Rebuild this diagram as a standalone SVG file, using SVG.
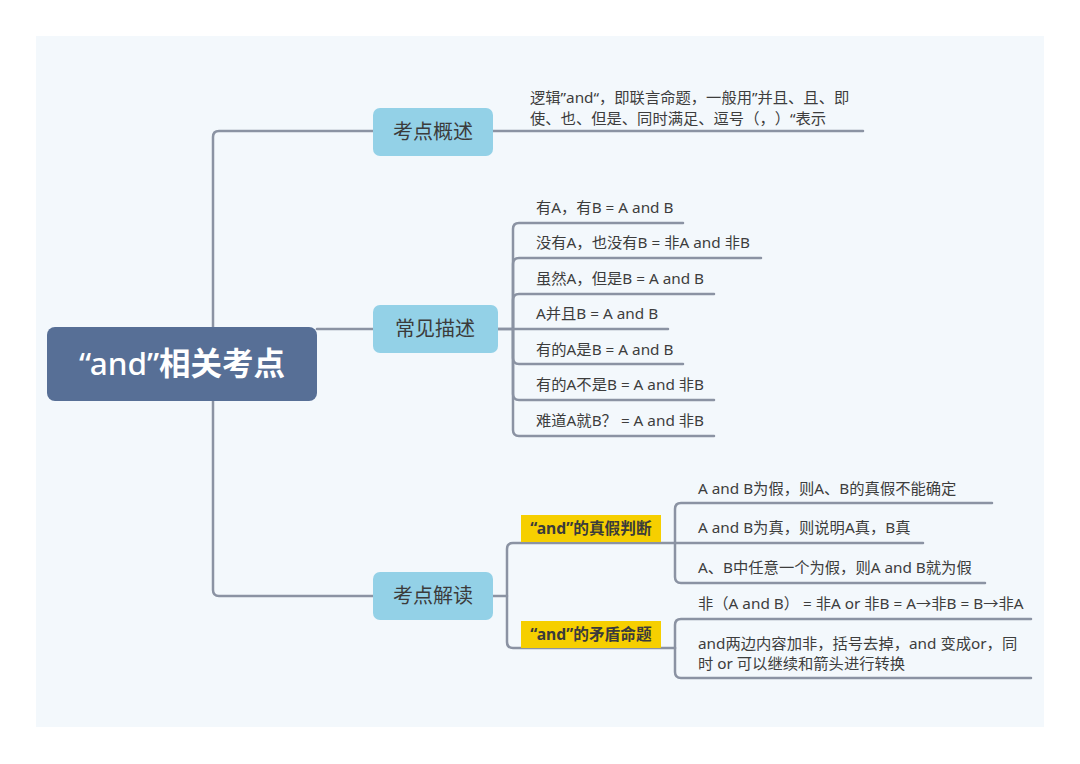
<svg xmlns="http://www.w3.org/2000/svg" width="1080" height="764" viewBox="0 0 1080 764">
<style>
.bg{fill:#f3f8fc}
.conn path{fill:none;stroke:#8b93a3;stroke-width:2.5;stroke-linecap:round;stroke-linejoin:round}
.root rect{fill:#576f96}
.root text{fill:#ffffff;font-size:31.5px}
.sub rect{fill:#93d1e7}
.sub text{fill:#3b3b3b;font-size:20px;text-anchor:middle}
.lbl rect{fill:#f6cf00}
.lbl text{fill:#3b3b3b;font-size:15.7px;font-weight:bold;text-anchor:middle}
.leaf text{fill:#3d3d3d;font-size:15.3px}
.cjk{font-family:"Noto Sans CJK SC",sans-serif}
text{font-family:"Noto Sans","Noto Sans CJK SC",sans-serif;text-spacing-trim:space-all}
</style>
<rect x="0" y="0" width="1080" height="764" fill="#ffffff"/>
<rect class="bg" x="36" y="36" width="1008" height="691"/>
<g class="conn" id="connectors">
<path d="M213,327 V137 Q213,131 219,131 H373"/>
<path d="M317,329 H373"/>
<path d="M213,400 V590 Q213,596 219,596 H373"/>
<path d="M493,131 H863"/>
<path d="M498,329 H513 V229 Q513,223 519,223 H683"/>
<path d="M513,329 V264 Q513,258 519,258 H761"/>
<path d="M513,329 V300 Q513,294 519,294 H714"/>
<path d="M498,329 H668"/>
<path d="M513,329 V358 Q513,364 519,364 H683"/>
<path d="M513,329 V394 Q513,400 519,400 H714"/>
<path d="M513,329 V430 Q513,436 519,436 H714"/>
<path d="M493,596 H507 V549 Q507,543 513,543 H675"/>
<path d="M507,596 V642 Q507,648 513,648 H675"/>
<path d="M675,543 V509 Q675,503 681,503 H992"/>
<path d="M675,543 H923"/>
<path d="M675,543 V577 Q675,583 681,583 H985"/>
<path d="M675,648 V625 Q675,619 681,619 H1031"/>
<path d="M675,648 V672 Q675,678 681,678 H1031"/>
</g>
<g class="root" id="root">
<rect x="47" y="327" width="270" height="74" rx="8"/>
<text x="182" y="375" text-anchor="middle"><tspan font-weight="500">“and”</tspan><tspan font-weight="bold">相关考点</tspan></text>
</g>
<g class="sub" id="n-gaishu">
<rect x="373" y="108" width="120" height="48" rx="7"/>
<text x="433" y="139">考点概述</text>
</g>
<g class="sub" id="n-miaoshu">
<rect x="373" y="305" width="125" height="48" rx="7"/>
<text x="435" y="336">常见描述</text>
</g>
<g class="sub" id="n-jiedu">
<rect x="373" y="572" width="120" height="48" rx="7"/>
<text x="433" y="603">考点解读</text>
</g>
<g class="leaf" id="n-gaishu-1">
<text x="530" y="103">逻辑”and“，即联言命题，一般用”并且、且、即</text>
<text x="530" y="124">使、也、但是、同时满足、逗号<tspan class="cjk">（，）</tspan>“表示</text>
</g>
<g class="leaf" id="n-ms-1"><text x="536" y="213">有A，有B = A and B</text></g>
<g class="leaf" id="n-ms-2"><text x="536" y="248">没有A，也没有B = 非A and 非B</text></g>
<g class="leaf" id="n-ms-3"><text x="536" y="284">虽然A，但是B = A and B</text></g>
<g class="leaf" id="n-ms-4"><text x="536" y="319">A并且B = A and B</text></g>
<g class="leaf" id="n-ms-5"><text x="536" y="355">有的A是B = A and B</text></g>
<g class="leaf" id="n-ms-6"><text x="536" y="390">有的A不是B = A and 非B</text></g>
<g class="leaf" id="n-ms-7"><text x="536" y="426">难道A就B？ = A and 非B</text></g>
<g class="lbl" id="n-zhenjia">
<rect x="521" y="515" width="140" height="27"/>
<text x="591" y="533.5">“and”的真假判断</text>
</g>
<g class="lbl" id="n-maodun">
<rect x="521" y="621" width="140" height="27"/>
<text x="591" y="639.5">“and”的矛盾命题</text>
</g>
<g class="leaf" id="n-zj-1"><text x="698" y="494">A and B为假，则A、B的真假不能确定</text></g>
<g class="leaf" id="n-zj-2"><text x="698" y="533">A and B为真，则说明A真，B真</text></g>
<g class="leaf" id="n-zj-3"><text x="698" y="573">A、B中任意一个为假，则A and B就为假</text></g>
<g class="leaf" id="n-md-1"><text x="698" y="609">非（A and B） = 非A or 非B = A→非B = B→非A</text></g>
<g class="leaf" id="n-md-2">
<text x="698" y="649">and两边内容加非，括号去掉，and 变成or，同</text>
<text x="698" y="669">时 or 可以继续和箭头进行转换</text>
</g>
</svg>
